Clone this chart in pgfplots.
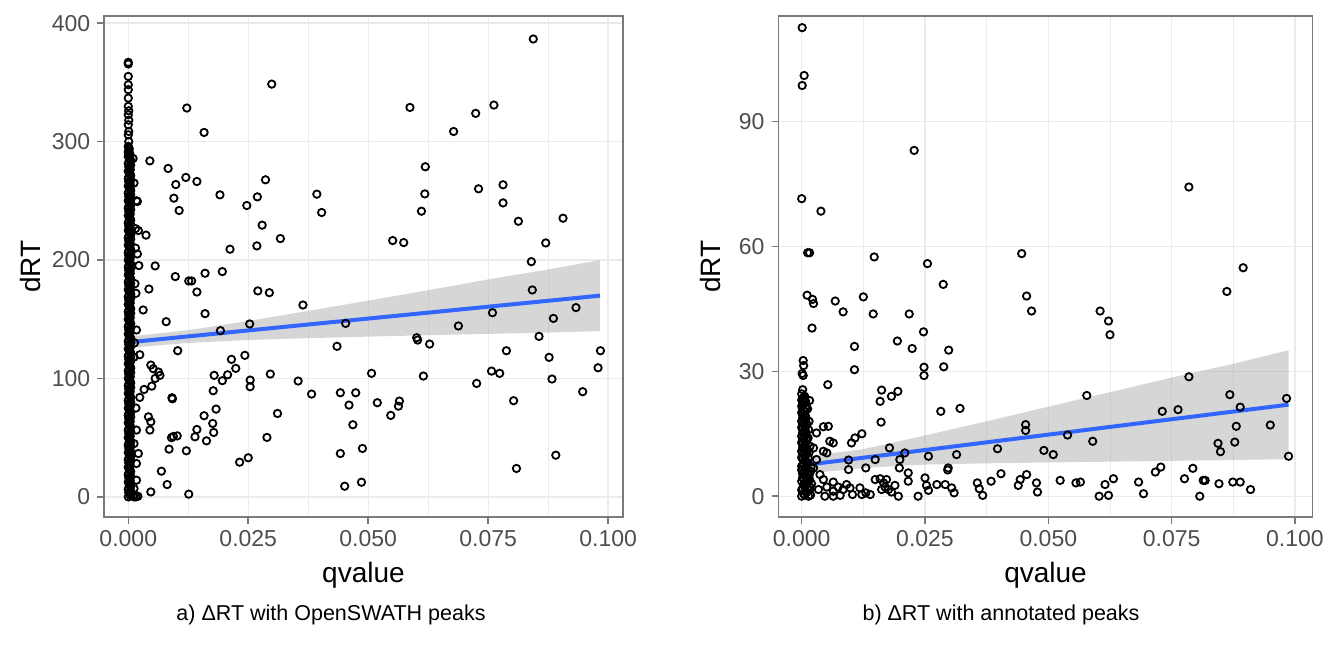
\documentclass[border=0pt]{standalone}
\usepackage{fontspec}
\setmainfont{Liberation Sans}
\usepackage{pgfplots}
\pgfplotsset{compat=1.18}
\definecolor{tickgray}{HTML}{4D4D4D}
\definecolor{gridgray}{HTML}{EBEBEB}
\definecolor{bordergray}{HTML}{7A7A7A}
\definecolor{ggblue}{HTML}{3366FF}
\definecolor{ribbon}{HTML}{999999}
\pgfplotsset{
  ggstyle/.style={
    scale only axis,
    height=250.5pt,
    axis line style={bordergray, line width=0.75pt},
    tick align=outside, xtick pos=bottom, ytick pos=left,
    major tick length=3.4pt,
    minor tick length=0pt,
    tick style={bordergray, line width=0.75pt},
    grid=both,
    major grid style={gridgray, line width=0.65pt},
    minor grid style={gridgray, line width=0.4pt},
    minor x tick num=1,
    xtick={0,0.025,0.05,0.075,0.1},
    xticklabels={0.000,0.025,0.050,0.075,0.100},
    /pgf/number format/assume math mode=true,
    ticklabel style={font=\fontsize{11.5pt}{13pt}\selectfont, text=tickgray},
    label style={font=\fontsize{14pt}{16pt}\selectfont, text=black},
    xlabel={qvalue},
    ylabel={dRT},
  },
  ggpts/.style={only marks, mark=o, black, mark size=1.85pt, mark options={line width=0.9pt}},
  ggband/.style={draw=none, fill=ribbon, fill opacity=0.4},
  ggline/.style={ggblue, line width=2pt, no marks},
}
\begin{document}
\begin{tikzpicture}
\path[use as bounding box] (0,0) rectangle (663.5pt,322.5pt);
% ---------------- left panel ----------------
\begin{axis}[ggstyle,
  at={(52pt,64pt)}, anchor=south west, width=259.5pt,
  xmin=-0.00506, xmax=0.1031, ymin=-17, ymax=406,
  ytick={0,100,200,300,400}, yticklabels={0,100,200,300,400},
  xlabel style={at={(axis description cs:0.5,-0.1158)}, anchor=center},
  ylabel style={at={(axis description cs:-0.1407,0.5)}, anchor=center},
]
% dense column at qvalue ~ 0
\addplot[ggpts] table {
q d
0 0
0.0003 2.5
0.0005 5
0.0001 7.5
0.0004 10
0 12.5
0.0003 15
0.0005 17.5
0.0001 20
0.0004 22.5
0 25
0.0003 27.5
0.0005 30
0.0001 32.5
0.0004 35
0 37.5
0.0003 40
0.0005 42.5
0.0001 45
0.0004 47.5
0 50
0.0003 52.5
0.0005 55
0.0001 57.5
0.0004 60
0 62.5
0.0003 65
0.0005 67.5
0.0001 70
0.0004 72.5
0 75
0.0003 77.5
0.0005 80
0.0001 82.5
0.0004 85
0 87.5
0.0003 90
0.0005 92.5
0.0001 95
0.0004 97.5
0 100
0.0003 102.5
0.0005 105
0.0001 107.5
0.0004 110
0 112.5
0.0003 115
0.0005 117.5
0.0001 120
0.0004 122.5
0 125
0.0003 127.5
0.0005 130
0.0001 132.5
0.0004 135
0 137.5
0.0003 140
0.0005 142.5
0.0001 145
0.0004 147.5
0 150
0.0003 152.5
0.0005 155
0.0001 157.5
0.0004 160
0 162.5
0.0003 165
0.0005 167.5
0.0001 170
0.0004 172.5
0 175
0.0003 177.5
0.0005 180
0.0001 182.5
0.0004 185
0 187.5
0.0003 190
0.0005 192.5
0.0001 195
0.0004 197.5
0 200
0.0003 202.5
0.0005 205
0.0001 207.5
0.0004 210
0 212.5
0.0003 215
0.0005 217.5
0.0001 220
0.0004 222.5
0 225
0.0003 227.5
0.0005 230
0.0001 232.5
0.0004 235
0 237.5
0.0003 240
0.0005 242.5
0.0001 245
0.0004 247.5
0 250
0.0003 252.5
0.0005 255
0.0001 257.5
0.0004 260
0 262.5
0.0003 265
0.0005 267.5
0.0001 270
0.0004 272.5
0 275
0.0003 277.5
0.0005 280
0.0001 282.5
0.0004 285
0 287.5
0.0003 290
0.0001 292.5
0.0004 1.2
0.0001 3.7
0 6.2
0.0005 8.7
0.0002 11.2
0.0004 13.7
0.0001 16.2
0 18.7
0.0005 21.2
0.0002 23.7
0.0004 26.2
0.0001 28.7
0 31.2
0.0005 33.7
0.0002 36.2
0.0004 38.7
0.0001 41.2
0 43.7
0.0005 46.2
0.0002 48.7
0.0004 51.2
0.0001 53.7
0 56.2
0.0005 58.7
0.0002 61.2
0.0004 63.7
0.0001 66.2
0 68.7
0.0005 71.2
0.0002 73.7
0.0004 76.2
0.0001 78.7
0 81.2
0.0005 83.7
0.0002 86.2
0.0004 88.7
0.0001 91.2
0 93.7
0.0005 96.2
0.0002 98.7
0.0004 101.2
0.0001 103.7
0 106.2
0.0005 108.7
0.0002 111.2
0.0004 113.7
0.0001 116.2
0 118.7
0.0005 121.2
0.0002 123.7
0.0004 126.2
0.0001 128.7
0 131.2
0.0005 133.7
0.0002 136.2
0.0004 138.7
0.0001 141.2
0 143.7
0.0005 146.2
0.0002 148.7
0.0004 151.2
0.0001 153.7
0 156.2
0.0005 158.7
0.0002 161.2
0.0004 163.7
0.0001 166.2
0 168.7
0.0005 171.2
0.0002 173.7
0.0004 176.2
0.0001 178.7
0 181.2
0.0005 183.7
0.0002 186.2
0.0004 188.7
0.0001 191.2
0 193.7
0.0005 196.2
0.0002 198.7
0.0004 201.2
0.0001 203.7
0 206.2
0.0005 208.7
0.0002 211.2
0.0004 213.7
0.0001 216.2
0 218.7
0.0005 221.2
0.0002 223.7
0.0004 226.2
0.0001 228.7
0 231.2
0.0005 233.7
0.0002 236.2
0.0004 238.7
0.0001 241.2
0 243.7
0.0005 246.2
0.0002 248.7
0.0004 251.2
0.0001 253.7
0 256.2
0.0005 258.7
0.0002 261.2
0.0004 263.7
0.0001 266.2
0 268.7
0.0005 271.2
0.0002 273.7
0.0004 276.2
0.0001 278.7
0 281.2
0.0005 283.7
0.0002 286.2
0.0001 288.7
0 291.2
0.0002 294
0 295.9
0.0001 300
0 305.7
0.0001 308.5
0 314.2
0.0001 318
0 322.6
0.0001 326
0 329.7
0 336.7
0 343.8
0 348
0 355
0 365.5
0 366.9
0.0012 0
0.0016 0
0.0020 0.5
0.0010 0.6
0.0012 7
0.0017 14.1
0.0017 28.2
0.0021 36.6
0.0012 45
0.0017 56.4
0.0016 75
0.0024 84
0.0012 118
0.0024 120
0.0013 130
0.0017 140.9
0.0016 171.9
0.0014 180
0.0022 195.3
0.0019 205.1
0.0015 210
0.0015 226.5
0.0021 224.9
0.0017 250
0.0019 249.4
0.0012 265
0.0010 285.7
};
% scattered points
\addplot[ggpts] table {
q d
0.0037 221
0.0031 157.8
0.0047 111.3
0.0052 108.2
0.0063 105.4
0.0066 102.6
0.0056 100
0.0049 93.5
0.0033 90.7
0.0042 67.6
0.0047 63.4
0.0045 56.4
0.0299 348.5
0.0122 328.3
0.0158 307.7
0.0045 283.7
0.0083 277.3
0.0120 269.7
0.0143 266.3
0.0286 267.7
0.0099 263.7
0.0095 252.2
0.0191 255.0
0.0269 253.3
0.0247 246.0
0.0393 255.6
0.0403 240.1
0.0106 241.8
0.0279 229.4
0.0317 218.1
0.0212 209.1
0.0268 211.9
0.0551 216.4
0.0574 214.7
0.0056 195.0
0.0098 186.0
0.0126 182.3
0.0132 182.3
0.0160 188.8
0.0196 190.2
0.0043 175.5
0.0143 173.0
0.0270 173.9
0.0294 172.4
0.0160 154.7
0.0364 162.0
0.0079 147.9
0.0192 140.3
0.0253 146.0
0.0103 123.4
0.0435 127.1
0.0453 146.5
0.0243 119.5
0.0215 116.1
0.0224 108.5
0.0179 102.6
0.0207 103.1
0.0196 98.1
0.0254 98.6
0.0254 93.0
0.0296 103.7
0.0354 97.8
0.0382 86.8
0.0442 87.9
0.0474 87.9
0.0460 77.5
0.0507 104.3
0.0519 79.5
0.0177 89.6
0.0183 74.1
0.0158 68.5
0.0176 62.0
0.0178 54.4
0.0143 56.9
0.0163 47.3
0.0139 50.7
0.0094 51.0
0.0102 51.5
0.0090 50.0
0.0091 83.7
0.0092 82.8
0.0311 70.4
0.0289 50.2
0.0468 60.9
0.0488 40.9
0.0442 36.6
0.0250 33.0
0.0232 29.3
0.0121 38.9
0.0085 40.3
0.0069 21.7
0.0081 10.4
0.0047 4.2
0.0126 2.3
0.0451 9.0
0.0486 12.4
0.0844 386.6
0.0587 328.8
0.0762 330.8
0.0724 323.8
0.0678 308.5
0.0619 278.7
0.0618 255.8
0.0611 241.2
0.0730 260.1
0.0781 263.5
0.0781 248.2
0.0813 232.7
0.0906 235.3
0.0870 214.4
0.0840 198.6
0.0842 174.7
0.0759 155.5
0.0688 144.3
0.0886 150.7
0.0933 159.8
0.0601 134.4
0.0603 132.4
0.0628 129.0
0.0856 135.5
0.0788 123.4
0.0877 117.8
0.0984 123.4
0.0979 109.0
0.0615 102.0
0.0757 106.2
0.0774 104.3
0.0883 99.5
0.0726 95.8
0.0947 88.8
0.0803 81.2
0.0565 80.9
0.0563 76.6
0.0547 68.8
0.0891 35.2
0.0809 24.0
};
% confidence band
\addplot[ggband] coordinates {
(0,125.8) (0.0125,130.0) (0.025,132.5) (0.0375,134.0) (0.05,135.3) (0.0625,136.5) (0.075,137.6) (0.0875,138.8) (0.0983,139.9)
(0.0983,199.9) (0.0875,192.0) (0.075,183.6) (0.0625,174.5) (0.05,165.7) (0.0375,157.0) (0.025,148.5) (0.0125,140.7) (0,135.2)
};
\addplot[ggline] coordinates {(0,130.5) (0.0983,169.9)};
\end{axis}
% ---------------- right panel ----------------
\begin{axis}[ggstyle,
  at={(389.15pt,64pt)}, anchor=south west, width=267.2pt,
  xmin=-0.00474, xmax=0.1036, ymin=-5, ymax=115.4,
  ytick={0,30,60,90}, yticklabels={0,30,60,90},
  xlabel style={at={(axis description cs:0.5,-0.1158)}, anchor=center},
  ylabel style={at={(axis description cs:-0.126,0.5)}, anchor=center},
]
% dense column at qvalue ~ 0
\addplot[ggpts] table {
q d
0 0
0.0004 0.6
0.0008 1.2
0.0002 1.8
0.0006 2.4
0.0010 3.0
0 3.6
0.0004 4.2
0.0008 4.8
0.0002 5.4
0.0006 6.0
0.0010 6.6
0 7.2
0.0004 7.8
0.0008 8.4
0.0002 9.0
0.0006 9.6
0.0010 10.2
0 10.8
0.0004 11.4
0.0008 12.0
0.0002 12.6
0.0006 13.2
0.0010 13.8
0 14.4
0.0004 15.0
0.0008 15.6
0.0002 16.2
0.0006 16.8
0.0010 17.4
0 18.0
0.0004 18.6
0.0008 19.2
0.0002 19.8
0.0006 20.4
0.0010 21.0
0 21.6
0.0004 22.2
0.0008 22.8
0.0002 23.4
0.0006 24.0
0 24.6
0.0006 0.3
0.0010 0.9
0 1.5
0.0012 2.1
0.0004 2.7
0.0008 3.3
0.0012 3.9
0.0002 4.5
0.0006 5.1
0.0012 5.7
0 6.3
0.0008 6.9
0.0004 7.5
0.0012 8.1
0.0006 8.7
0 9.3
0.0008 9.9
0.0004 10.5
0.0012 11.1
0.0002 11.7
0.0006 12.3
0 12.9
0.0010 13.5
0.0004 14.1
0.0008 14.7
0.0002 15.3
0.0006 15.9
0 16.5
0.0010 17.1
0.0004 17.7
0.0008 18.3
0.0002 18.9
0.0006 19.5
0 20.1
0.0004 20.7
0.0008 21.3
0.0002 21.9
0.0006 22.5
0 23.1
0.0004 23.7
0.0002 25.6
0.0003 29.0
0.0001 29.5
0.0004 31.4
0.0003 32.6
0.0014 0
0.0018 0.3
0.0016 1.5
0.0020 3.0
0.0015 5.0
0.0019 7.0
0.0014 9.0
0.0017 12.0
0.0013 14.0
0.0015 18.0
0.0012 21.0
0.0016 23.0
0.0017 2.2
0.0016 4.0
0.0018 6.0
0.0015 10.5
0.0014 16.0
};
% scattered points
\addplot[ggpts] table {
q d
0.0001 112.6
0.0005 101.1
0.0001 98.7
0.0228 83.1
0.0000 71.5
0.0039 68.5
0.0012 58.5
0.0016 58.5
0.0147 57.5
0.0446 58.3
0.0255 55.9
0.0785 74.3
0.0287 50.9
0.0011 48.3
0.0022 47.3
0.0024 46.3
0.0068 46.9
0.0125 47.9
0.0084 44.3
0.0145 43.8
0.0218 43.8
0.0456 48.1
0.0466 44.5
0.0021 40.4
0.0247 39.5
0.0107 36.0
0.0194 37.3
0.0224 35.5
0.0298 35.1
0.0107 30.4
0.0248 31.0
0.0248 29.0
0.0288 31.1
0.0053 26.8
0.0162 25.5
0.0159 22.8
0.0182 24.0
0.0195 25.2
0.0282 20.4
0.0321 21.1
0.0161 17.8
0.0454 17.2
0.0454 15.8
0.0895 54.9
0.0862 49.2
0.0605 44.5
0.0622 42.1
0.0625 38.8
0.0785 28.7
0.0578 24.2
0.0868 24.4
0.0983 23.5
0.0731 20.4
0.0763 20.8
0.0889 21.4
0.0881 16.8
0.0950 17.1
0.0539 14.7
0.0590 13.2
0.0844 12.7
0.0849 10.7
0.0878 13.0
0.0491 11.0
0.0510 10.0
0.0987 9.6
0.0728 7.0
0.0717 5.8
0.0793 6.7
0.0524 3.8
0.0556 3.2
0.0565 3.4
0.0615 2.8
0.0632 4.2
0.0603 0.0
0.0622 0.2
0.0683 3.4
0.0693 0.6
0.0776 4.2
0.0814 3.8
0.0818 3.8
0.0807 0.0
0.0846 3.0
0.0874 3.4
0.0889 3.4
0.0910 1.6
0.0439 2.6
0.0443 4.0
0.0456 5.2
0.0476 3.2
0.0478 1.0
0.0397 11.4
0.0030 15.2
0.0044 16.7
0.0054 16.8
0.0057 13.2
0.0064 12.8
0.0044 10.8
0.0051 10.4
0.0024 11.6
0.0101 12.8
0.0108 14.0
0.0122 15.0
0.0095 8.7
0.0095 6.4
0.0130 6.8
0.0149 8.8
0.0178 11.6
0.0199 8.8
0.0198 6.8
0.0209 10.4
0.0257 9.6
0.0314 10.0
0.0216 5.6
0.0216 3.6
0.0297 6.8
0.0296 6.3
0.0250 4.4
0.0253 2.6
0.0257 1.4
0.0274 2.8
0.0291 2.8
0.0304 2.0
0.0309 0.8
0.0356 3.2
0.0360 1.8
0.0367 0.2
0.0384 3.6
0.0404 5.4
0.0236 0.0
0.0044 4.0
0.0051 2.2
0.0064 3.4
0.0064 1.2
0.0074 2.2
0.0084 1.6
0.0091 2.8
0.0098 2.0
0.0103 0.4
0.0118 2.0
0.0122 0.4
0.0130 0.8
0.0139 0.4
0.0149 4.0
0.0159 4.2
0.0166 3.2
0.0169 2.2
0.0176 1.6
0.0182 1.0
0.0189 2.6
0.0196 0.0
0.0172 4.0
0.0162 1.6
0.0064 0.0
0.0078 0.2
0.0047 0.0
0.0034 1.6
0.0037 5.2
0.0024 6.8
0.0030 8.8
};
% confidence band
\addplot[ggband] coordinates {
(0,5.3) (0.0125,6.8) (0.025,7.6) (0.0375,7.9) (0.05,8.1) (0.0625,8.3) (0.075,8.5) (0.0875,8.7) (0.0987,8.9)
(0.0987,35.1) (0.0875,31.8) (0.075,28.5) (0.0625,25.0) (0.05,21.5) (0.0375,18.0) (0.025,14.6) (0.0125,11.3) (0,9.5)
};
\addplot[ggline] coordinates {(0,7.4) (0.0987,22.0)};
\end{axis}
% captions
\node[font=\fontsize{10.75pt}{13pt}\selectfont, anchor=base] at (165.5pt,12.5pt) {a) ΔRT with OpenSWATH peaks};
\node[font=\fontsize{10.75pt}{13pt}\selectfont, anchor=base] at (500.5pt,12.5pt) {b) ΔRT with annotated peaks};
\end{tikzpicture}
\end{document}
